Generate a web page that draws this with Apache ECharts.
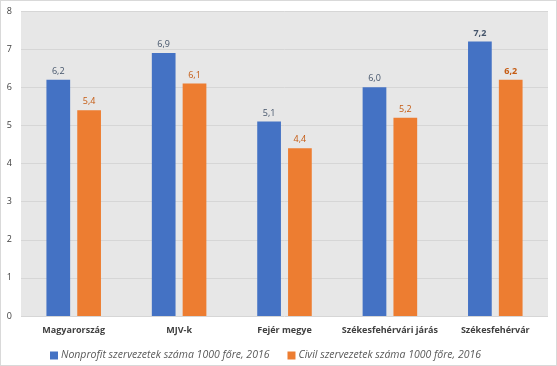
<!DOCTYPE html>
<html><head><meta charset="utf-8">
<script src="https://cdn.jsdelivr.net/npm/echarts@6/dist/echarts.min.js"></script>
<style>html,body{margin:0;padding:0;background:#fff}#c{width:557px;height:366px;box-sizing:border-box;border:1px solid #d9d9d9}</style>
</head><body><div id="c"></div>
<script>
var categories = ['Magyarország', 'MJV-k', 'Fejér megye', 'Székesfehérvári járás', 'Székesfehérvár'];
var nonprofit = [6.2, 6.9, 5.1, 6.0, 7.2];
var civil = [5.4, 6.1, 4.4, 5.2, 6.2];
var seriesNames = ['Nonprofit szervezetek száma 1000 főre, 2016', 'Civil szervezetek száma 1000 főre, 2016'];
var boldIndex = 4;

var font = 'Open Sans, sans-serif';
function fmt(p){ return p.value.toFixed(1).replace('.', ','); }
function mk(arr){
  return arr.map(function(v,i){
    return i===boldIndex ? {value:v, label:{fontWeight:'bold'}} : v;
  });
}
var chart = echarts.init(document.getElementById('c'));
chart.setOption({
  animation:false,
  textStyle:{fontFamily:font},
  grid:{left:20,right:8,top:10,bottom:49,backgroundColor:'#e7e7e7',show:true,borderWidth:0},
  legend:{
    left:44, top:344, itemWidth:8, itemHeight:8, itemGap:18, icon:'rect',
    textStyle:{fontFamily:font,fontStyle:'italic',fontSize:10.5,color:'#595959',padding:[0,0,0,-2]},
    data:seriesNames
  },
  xAxis:{
    type:'category', data:categories,
    axisLine:{show:false}, axisTick:{show:false},
    axisLabel:{interval:0,fontFamily:font,fontWeight:'bold',fontSize:9,color:'#404040',margin:10}
  },
  yAxis:{
    type:'value', min:0, max:8, interval:1,
    axisLabel:{fontFamily:font,fontSize:9,color:'#404040',margin:9},
    splitLine:{lineStyle:{color:'#d6d6d6',width:1}}
  },
  series:[
    {name:seriesNames[0], type:'bar', data:mk(nonprofit), barWidth:'22.5%', barGap:'30%',
     itemStyle:{color:'#4472c4'},
     label:{show:true,position:'top',distance:4,formatter:fmt,fontFamily:font,fontSize:9,color:'#44546a'}},
    {name:seriesNames[1], type:'bar', data:mk(civil), barWidth:'22.5%', barGap:'30%',
     itemStyle:{color:'#ed7d31'},
     label:{show:true,position:'top',distance:4,formatter:fmt,fontFamily:font,fontSize:9,color:'#c55a11'}}
  ]
});
</script></body></html>
